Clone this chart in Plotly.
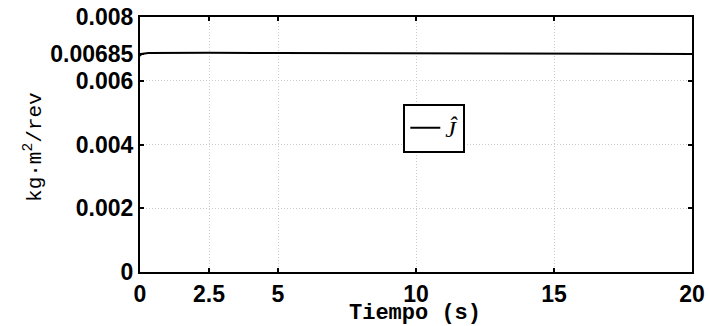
import plotly.graph_objects as go

# Data
time_s = [0, 0.05, 0.3, 1, 2.5, 5, 7.5, 10, 12.5, 15, 17.5, 20]
J_hat = [0.00678, 0.00684, 0.00687, 0.00688, 0.00688, 0.00687, 0.00687, 0.00686, 0.00686, 0.00685, 0.00685, 0.00684]

x_ticks = [0, 2.5, 5, 10, 15, 20]
x_ticktext = ["0", "2.5", "5", "10", "15", "20"]
y_ticks = [0, 0.002, 0.004, 0.006, 0.00685, 0.008]
y_ticktext = ["0", "0.002", "0.004", "0.006", "0.00685", "0.008"]

tick_font = dict(family="Liberation Sans, Arial, sans-serif", size=23, color="black")
title_font = dict(family="Liberation Mono, Courier New, monospace", size=22, color="black")

fig = go.Figure()
fig.add_trace(go.Scatter(
    x=time_s, y=J_hat, mode="lines",
    line=dict(color="black", width=2),
    name="<i>Ĵ</i>",
))

axis_common = dict(
    showline=True, linecolor="black", linewidth=2, mirror="ticks",
    ticks="inside", ticklen=4, tickwidth=1.5, tickcolor="black",
    showgrid=True, gridcolor="#cccccc", gridwidth=1, griddash="1px,2px",
    zeroline=False, tickfont=tick_font, automargin=False,
    ticklabelstandoff=0,
)

fig.update_xaxes(range=[0, 20], tickmode="array", tickvals=x_ticks,
                 ticktext=["<b>%s</b>" % t for t in x_ticktext], **axis_common)
fig.update_yaxes(range=[0, 0.008], tickmode="array", tickvals=y_ticks,
                 ticktext=["<b>%s</b>" % t for t in y_ticktext], **axis_common)

fig.update_layout(
    width=709, height=326,
    margin=dict(l=140, r=17, t=17, b=54, autoexpand=False),
    plot_bgcolor="white", paper_bgcolor="white",
    showlegend=True,
    legend=dict(
        x=0.477, y=0.66, xanchor="left", yanchor="top",
        bgcolor="white", bordercolor="black", borderwidth=2,
        font=dict(family="Liberation Serif, DejaVu Serif, serif", size=24, color="black"),
        itemwidth=30, tracegroupgap=0,
    ),
    annotations=[
        dict(text="<b>Tiempo (s)</b>", xref="paper", yref="paper",
             x=0.498, y=-0.162, xanchor="center", yanchor="middle",
             showarrow=False, font=title_font),
        dict(text="kg·m<sup>2</sup>/rev", xref="paper", yref="paper",
             x=-0.194, y=0.49, xanchor="center", yanchor="middle",
             textangle=-90, showarrow=False,
             font=dict(family="Liberation Mono, Courier New, monospace", size=21, color="black")),
    ],
)

fig.write_html("out.html", config={"displayModeBar": False},
               post_script="document.body.style.margin='0';")
